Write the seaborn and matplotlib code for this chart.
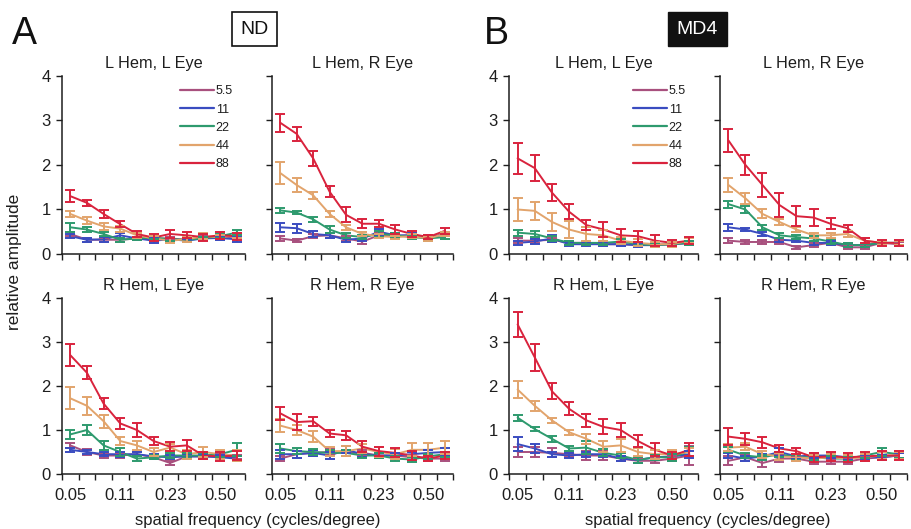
import numpy as np
import pandas as pd
import matplotlib
matplotlib.use("Agg")
import matplotlib.pyplot as plt
import seaborn as sns

sns.set_theme(style="ticks")
plt.rcParams['font.family'] = ['Liberation Sans', 'DejaVu Sans']

freqs = [0.05, 0.065, 0.085, 0.11, 0.14, 0.18, 0.23, 0.30, 0.39, 0.50, 0.65]
tick_labels = ["0.05", "0.11", "0.23", "0.50"]
series = ["5.5", "11", "22", "44", "88"]
colors = ["#a8507e", "#3a4cc0", "#2e9a6e", "#e2a46c", "#d9233d"]

# ---- Group A (ND) ----
A_LL_mean = {
    "88":  [1.30, 1.15, 0.90, 0.67, 0.45, 0.37, 0.45, 0.42, 0.38, 0.42, 0.40],
    "44":  [0.90, 0.75, 0.62, 0.57, 0.42, 0.35, 0.30, 0.33, 0.40, 0.38, 0.42],
    "22":  [0.60, 0.55, 0.45, 0.32, 0.35, 0.37, 0.33, 0.32, 0.35, 0.40, 0.48],
    "11":  [0.40, 0.32, 0.33, 0.42, 0.35, 0.30, 0.33, 0.30, 0.35, 0.36, 0.33],
    "5.5": [0.45, 0.32, 0.32, 0.32, 0.35, 0.35, 0.35, 0.32, 0.38, 0.36, 0.40],
}
A_LL_err = {
    "88":  [0.13, 0.07, 0.08, 0.07, 0.06, 0.07, 0.08, 0.07, 0.08, 0.08, 0.08],
    "44":  [0.06, 0.08, 0.07, 0.07, 0.05, 0.05, 0.05, 0.05, 0.07, 0.05, 0.05],
    "22":  [0.10, 0.06, 0.05, 0.05, 0.04, 0.04, 0.04, 0.04, 0.04, 0.05, 0.05],
    "11":  [0.05, 0.05, 0.05, 0.06, 0.04, 0.05, 0.04, 0.04, 0.04, 0.05, 0.05],
    "5.5": [0.05, 0.04, 0.04, 0.04, 0.04, 0.04, 0.04, 0.04, 0.04, 0.04, 0.04],
}
A_LR_mean = {
    "88":  [2.95, 2.70, 2.15, 1.40, 0.88, 0.68, 0.68, 0.55, 0.45, 0.38, 0.52],
    "44":  [1.82, 1.55, 1.32, 0.90, 0.60, 0.45, 0.40, 0.38, 0.40, 0.35, 0.45],
    "22":  [0.98, 0.93, 0.78, 0.55, 0.42, 0.38, 0.45, 0.42, 0.38, 0.35, 0.38],
    "11":  [0.60, 0.58, 0.45, 0.42, 0.32, 0.35, 0.50, 0.42, 0.42, 0.35, 0.45],
    "5.5": [0.35, 0.30, 0.40, 0.42, 0.35, 0.28, 0.42, 0.40, 0.42, 0.38, 0.45],
}
A_LR_err = {
    "88":  [0.20, 0.15, 0.17, 0.12, 0.17, 0.10, 0.08, 0.10, 0.07, 0.05, 0.07],
    "44":  [0.25, 0.15, 0.08, 0.06, 0.06, 0.05, 0.05, 0.05, 0.05, 0.05, 0.05],
    "22":  [0.05, 0.04, 0.06, 0.08, 0.05, 0.05, 0.07, 0.05, 0.05, 0.05, 0.04],
    "11":  [0.10, 0.10, 0.06, 0.06, 0.05, 0.06, 0.07, 0.05, 0.06, 0.05, 0.05],
    "5.5": [0.05, 0.03, 0.05, 0.05, 0.05, 0.05, 0.05, 0.05, 0.05, 0.05, 0.05],
}
A_RL_mean = {
    "88":  [2.70, 2.30, 1.60, 1.15, 1.00, 0.75, 0.62, 0.65, 0.42, 0.40, 0.42],
    "44":  [1.72, 1.55, 1.20, 0.75, 0.65, 0.50, 0.60, 0.45, 0.50, 0.45, 0.42],
    "22":  [0.90, 1.00, 0.65, 0.50, 0.35, 0.38, 0.42, 0.42, 0.42, 0.45, 0.55],
    "11":  [0.55, 0.50, 0.45, 0.45, 0.45, 0.40, 0.38, 0.40, 0.40, 0.38, 0.35],
    "5.5": [0.65, 0.50, 0.42, 0.42, 0.45, 0.38, 0.25, 0.40, 0.40, 0.40, 0.38],
}
A_RL_err = {
    "88":  [0.25, 0.15, 0.13, 0.12, 0.17, 0.10, 0.10, 0.13, 0.07, 0.10, 0.10],
    "44":  [0.25, 0.20, 0.15, 0.10, 0.10, 0.10, 0.08, 0.10, 0.12, 0.10, 0.12],
    "22":  [0.10, 0.12, 0.10, 0.08, 0.05, 0.05, 0.05, 0.05, 0.05, 0.06, 0.15],
    "11":  [0.05, 0.05, 0.05, 0.06, 0.05, 0.05, 0.05, 0.05, 0.05, 0.05, 0.05],
    "5.5": [0.06, 0.06, 0.05, 0.05, 0.05, 0.05, 0.05, 0.05, 0.05, 0.05, 0.05],
}
A_RR_mean = {
    "88":  [1.38, 1.18, 1.20, 0.92, 0.88, 0.62, 0.52, 0.48, 0.42, 0.35, 0.42],
    "44":  [1.10, 1.00, 0.85, 0.52, 0.52, 0.58, 0.50, 0.45, 0.55, 0.55, 0.60],
    "22":  [0.58, 0.52, 0.50, 0.48, 0.48, 0.42, 0.42, 0.35, 0.33, 0.40, 0.45],
    "11":  [0.45, 0.45, 0.48, 0.42, 0.55, 0.45, 0.42, 0.42, 0.45, 0.48, 0.50],
    "5.5": [0.35, 0.45, 0.48, 0.50, 0.48, 0.48, 0.42, 0.42, 0.38, 0.35, 0.35],
}
A_RR_err = {
    "88":  [0.15, 0.18, 0.10, 0.08, 0.10, 0.12, 0.10, 0.10, 0.10, 0.06, 0.08],
    "44":  [0.15, 0.12, 0.12, 0.10, 0.12, 0.10, 0.12, 0.12, 0.15, 0.15, 0.15],
    "22":  [0.10, 0.07, 0.06, 0.06, 0.06, 0.06, 0.06, 0.06, 0.06, 0.06, 0.06],
    "11":  [0.10, 0.08, 0.06, 0.08, 0.08, 0.06, 0.06, 0.06, 0.06, 0.06, 0.08],
    "5.5": [0.05, 0.08, 0.06, 0.06, 0.06, 0.06, 0.06, 0.06, 0.06, 0.06, 0.06],
}

# ---- Group B (MD4) ----
B_LL_mean = {
    "88":  [2.15, 1.93, 1.38, 0.95, 0.65, 0.55, 0.42, 0.40, 0.30, 0.25, 0.30],
    "44":  [1.00, 0.97, 0.72, 0.55, 0.45, 0.42, 0.30, 0.25, 0.22, 0.22, 0.30],
    "22":  [0.48, 0.45, 0.35, 0.25, 0.25, 0.25, 0.28, 0.22, 0.20, 0.22, 0.25],
    "11":  [0.25, 0.28, 0.35, 0.22, 0.22, 0.22, 0.22, 0.20, 0.20, 0.22, 0.25],
    "5.5": [0.30, 0.30, 0.32, 0.25, 0.25, 0.22, 0.22, 0.20, 0.20, 0.22, 0.25],
}
B_LL_err = {
    "88":  [0.35, 0.30, 0.20, 0.17, 0.12, 0.17, 0.15, 0.12, 0.12, 0.06, 0.08],
    "44":  [0.25, 0.20, 0.20, 0.20, 0.15, 0.12, 0.08, 0.08, 0.06, 0.06, 0.06],
    "22":  [0.07, 0.07, 0.06, 0.05, 0.05, 0.05, 0.05, 0.05, 0.05, 0.05, 0.05],
    "11":  [0.05, 0.06, 0.08, 0.05, 0.05, 0.05, 0.05, 0.05, 0.05, 0.05, 0.05],
    "5.5": [0.05, 0.05, 0.05, 0.05, 0.05, 0.05, 0.05, 0.05, 0.05, 0.05, 0.05],
}
B_LR_mean = {
    "88":  [2.55, 2.00, 1.55, 1.10, 0.85, 0.82, 0.68, 0.58, 0.30, 0.25, 0.25],
    "44":  [1.55, 1.25, 0.90, 0.72, 0.55, 0.42, 0.42, 0.45, 0.30, 0.25, 0.25],
    "22":  [1.12, 1.00, 0.60, 0.42, 0.38, 0.35, 0.28, 0.20, 0.20, 0.25, 0.25],
    "11":  [0.60, 0.55, 0.45, 0.32, 0.30, 0.25, 0.25, 0.20, 0.20, 0.25, 0.25],
    "5.5": [0.30, 0.27, 0.27, 0.27, 0.15, 0.20, 0.25, 0.15, 0.15, 0.25, 0.22],
}
B_LR_err = {
    "88":  [0.25, 0.22, 0.28, 0.27, 0.22, 0.18, 0.12, 0.08, 0.06, 0.06, 0.06],
    "44":  [0.15, 0.12, 0.10, 0.07, 0.06, 0.06, 0.06, 0.06, 0.05, 0.05, 0.05],
    "22":  [0.08, 0.07, 0.06, 0.05, 0.05, 0.05, 0.05, 0.05, 0.05, 0.05, 0.05],
    "11":  [0.08, 0.04, 0.04, 0.05, 0.04, 0.04, 0.04, 0.04, 0.04, 0.04, 0.04],
    "5.5": [0.05, 0.04, 0.04, 0.04, 0.03, 0.05, 0.04, 0.04, 0.04, 0.04, 0.04],
}
B_RL_mean = {
    "88":  [3.40, 2.65, 1.88, 1.48, 1.22, 1.07, 1.00, 0.75, 0.55, 0.42, 0.55],
    "44":  [1.92, 1.55, 1.22, 0.95, 0.80, 0.62, 0.65, 0.50, 0.45, 0.45, 0.50],
    "22":  [1.28, 1.02, 0.80, 0.58, 0.60, 0.48, 0.42, 0.32, 0.38, 0.38, 0.52],
    "11":  [0.68, 0.58, 0.45, 0.42, 0.45, 0.45, 0.35, 0.32, 0.38, 0.40, 0.45],
    "5.5": [0.50, 0.50, 0.48, 0.45, 0.42, 0.42, 0.35, 0.30, 0.30, 0.35, 0.42],
}
B_RL_err = {
    "88":  [0.28, 0.30, 0.18, 0.15, 0.15, 0.17, 0.15, 0.13, 0.15, 0.08, 0.15],
    "44":  [0.20, 0.12, 0.06, 0.06, 0.12, 0.12, 0.15, 0.10, 0.10, 0.10, 0.10],
    "22":  [0.07, 0.05, 0.07, 0.05, 0.15, 0.08, 0.06, 0.06, 0.06, 0.08, 0.10],
    "11":  [0.15, 0.10, 0.06, 0.05, 0.06, 0.06, 0.06, 0.06, 0.06, 0.06, 0.08],
    "5.5": [0.12, 0.12, 0.10, 0.06, 0.10, 0.10, 0.06, 0.06, 0.06, 0.06, 0.22],
}
B_RR_mean = {
    "88":  [0.85, 0.80, 0.72, 0.58, 0.52, 0.38, 0.40, 0.38, 0.40, 0.42, 0.42],
    "44":  [0.60, 0.62, 0.45, 0.40, 0.38, 0.35, 0.38, 0.35, 0.38, 0.42, 0.42],
    "22":  [0.55, 0.42, 0.38, 0.45, 0.38, 0.38, 0.35, 0.35, 0.42, 0.50, 0.45],
    "11":  [0.42, 0.35, 0.40, 0.50, 0.40, 0.42, 0.42, 0.38, 0.38, 0.38, 0.42],
    "5.5": [0.30, 0.38, 0.25, 0.35, 0.35, 0.28, 0.28, 0.28, 0.35, 0.38, 0.42],
}
B_RR_err = {
    "88":  [0.20, 0.13, 0.13, 0.08, 0.06, 0.10, 0.10, 0.10, 0.10, 0.10, 0.10],
    "44":  [0.08, 0.08, 0.08, 0.08, 0.08, 0.08, 0.08, 0.08, 0.08, 0.08, 0.08],
    "22":  [0.06, 0.06, 0.06, 0.06, 0.06, 0.06, 0.06, 0.06, 0.06, 0.08, 0.08],
    "11":  [0.06, 0.06, 0.06, 0.08, 0.06, 0.06, 0.06, 0.06, 0.06, 0.06, 0.06],
    "5.5": [0.10, 0.08, 0.10, 0.08, 0.06, 0.06, 0.06, 0.06, 0.06, 0.06, 0.06],
}

panels = [
    ("L Hem, L Eye", A_LL_mean, A_LL_err, (62, 76, 245, 254), True, True),
    ("L Hem, R Eye", A_LR_mean, A_LR_err, (272, 76, 453, 254), False, False),
    ("R Hem, L Eye", A_RL_mean, A_RL_err, (62, 298, 245, 474), True, False),
    ("R Hem, R Eye", A_RR_mean, A_RR_err, (272, 298, 453, 474), False, False),
    ("L Hem, L Eye", B_LL_mean, B_LL_err, (509, 76, 698, 254), True, True),
    ("L Hem, R Eye", B_LR_mean, B_LR_err, (720, 76, 907, 254), False, False),
    ("R Hem, L Eye", B_RL_mean, B_RL_err, (509, 298, 698, 474), True, False),
    ("R Hem, R Eye", B_RR_mean, B_RR_err, (720, 298, 907, 474), False, False),
]

W, H = 912, 529
fig = plt.figure(figsize=(W / 100, H / 100), dpi=100)
fig.patch.set_facecolor("white")

palette = dict(zip(series, colors))
TXT = "#1e1e1e"

for title, means, errs, (l, t, r, b), show_y, show_leg in panels:
    ax = fig.add_axes([l / W, 1 - b / H, (r - l) / W, (b - t) / H])
    ax.set_facecolor("white")
    rows = []
    for s in series:
        for i, f in enumerate(freqs):
            rows.append({"pos": i, "freq": f, "series": s,
                         "mean": means[s][i], "err": errs[s][i]})
    df = pd.DataFrame(rows)
    sns.lineplot(data=df, x="pos", y="mean", hue="series", hue_order=series,
                 palette=palette, ax=ax, lw=1.4, errorbar=None,
                 legend=show_leg)
    for s in series:
        d = df[df["series"] == s]
        ax.errorbar(d["pos"], d["mean"], yerr=d["err"], fmt="none",
                    ecolor=palette[s], elinewidth=1.4, capsize=3.6,
                    capthick=1.4)
    ax.set_xlim(-0.5, 10.5)
    ax.set_ylim(0, 4)
    ax.set_xticks(np.arange(-0.5, 11, 1.0))
    ax.set_xticklabels([])
    ax.set_xticks([0, 3, 6, 9], minor=True)
    ax.set_xticklabels(tick_labels, minor=True)
    ax.tick_params(axis="x", which="major", length=4, width=1, direction="out",
                   color=TXT)
    ax.tick_params(axis="x", which="minor", length=0, labelsize=12, pad=10,
                   labelcolor=TXT)
    ax.set_yticks([0, 1, 2, 3, 4])
    ax.tick_params(axis="y", length=4, width=1, direction="out",
                   labelsize=12, color=TXT, labelcolor=TXT, pad=4)
    if not show_y:
        ax.set_yticklabels([])
    if b < 300:
        ax.tick_params(axis="x", which="minor", labelbottom=False)
    ax.set_xlabel("")
    ax.set_ylabel("")
    for sp in ["top", "right"]:
        ax.spines[sp].set_visible(False)
    for sp in ["left", "bottom"]:
        ax.spines[sp].set_linewidth(1.1)
        ax.spines[sp].set_color(TXT)
    ax.set_title(title, fontsize=11.7, pad=6, color=TXT)
    if show_leg:
        leg = ax.legend(loc="upper right", bbox_to_anchor=(0.975, 0.99),
                        frameon=False, fontsize=9, handlelength=2.7,
                        handletextpad=0.15, labelspacing=0.5,
                        borderaxespad=0.2)
        for h in leg.get_lines():
            h.set_linewidth(1.6)
        for tx in leg.get_texts():
            tx.set_color(TXT)
    elif ax.get_legend() is not None:
        ax.get_legend().remove()

# Panel letters
fig.text(12 / W, 1 - 44 / H, "A", fontsize=27, color="#111111", va="baseline")
fig.text(484 / W, 1 - 44 / H, "B", fontsize=27, color="#111111", va="baseline")

# Condition boxes
fig.text(254.5 / W, 1 - 29 / H, "ND", fontsize=14, ha="center", va="center",
         color="#111111",
         bbox=dict(boxstyle="square,pad=0.45", fc="white", ec="#111111", lw=1.2))
fig.text(697.5 / W, 1 - 29 / H, "MD4", fontsize=14, ha="center", va="center",
         color="white",
         bbox=dict(boxstyle="square,pad=0.45", fc="#111111", ec="#111111", lw=1))

# Axis labels
fig.text(15 / W, 1 - 262 / H, "relative amplitude", rotation=90, fontsize=12.5,
         ha="center", va="center", color=TXT)
fig.text(258 / W, 1 - 520 / H, "spatial frequency (cycles/degree)", fontsize=12,
         ha="center", va="center", color=TXT)
fig.text(708 / W, 1 - 520 / H, "spatial frequency (cycles/degree)", fontsize=12,
         ha="center", va="center", color=TXT)

fig.savefig("out.png", dpi=100, facecolor="white")
